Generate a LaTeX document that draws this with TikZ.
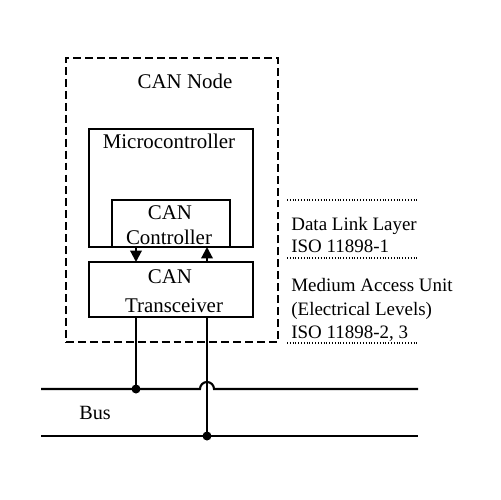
\documentclass[tikz,border=0pt]{standalone}
\usepackage{fontspec}
\setmainfont{Liberation Serif}
\usetikzlibrary{arrows.meta}
\begin{document}
\begin{tikzpicture}[x=0.02cm,y=-0.02cm,
  boxs/.style={draw, line width=1.2pt, inner sep=0pt, outer sep=0pt},
  nodebox/.style={draw, line width=1.1pt, dash pattern=on 4.5pt off 2.3pt, inner sep=0pt, outer sep=0pt},
  lbl/.style={inner sep=0pt, anchor=base, font=\fontsize{11.9}{14}\selectfont},
  rlbl/.style={inner sep=0pt, anchor=base west, font=\fontsize{10.8}{13}\selectfont},
  wire/.style={line width=1.2pt},
  dotl/.style={line width=0.8pt, dash pattern=on 0.5pt off 1.1pt},
  arr/.style={line width=1.2pt, -{Triangle[length=6.5pt,width=6.5pt]}},
  jdot/.style={circle, fill, inner sep=0pt, minimum size=0.18cm}]
\useasboundingbox (0,0) rectangle (500,500);
% boxes
\node[nodebox, minimum width=4.24cm, minimum height=5.68cm] (cann) at (172,200) {};
\node[boxs, minimum width=3.28cm, minimum height=2.36cm] (mc) at (171,188) {};
\node[boxs, minimum width=2.36cm, minimum height=0.94cm] (ctl) at (171,223.5) {};
\node[boxs, minimum width=3.28cm, minimum height=1.1cm] (trx) at (171,289.5) {};
% box texts
\node[lbl] (tnode) at (185,89) {CAN Node};
\node[lbl] (tmc) at (169,148) {Microcontroller};
\node[lbl] (tctl1) at (170,219.5) {CAN};
\node[lbl] (tctl2) at (169,244.5) {Controller};
\node[lbl] (ttrx1) at (170,283) {CAN};
\node[lbl] (ttrx2) at (174,312) {Transceiver};
% arrows between controller and transceiver
\coordinate (xa) at (136,0);
\coordinate (xb) at (207,0);
\draw[arr] (xa |- mc.south) -- (xa |- trx.north);
\draw[arr] (xb |- trx.north) -- (xb |- mc.south);
% bus
\coordinate (b1l) at (41,389);
\coordinate (b1r) at (418,389);
\coordinate (b2l) at (41,436);
\coordinate (b2r) at (418,436);
\node[jdot] (j1) at (xa |- b1l) {};
\node[jdot] (j2) at (xb |- b2l) {};
\draw[wire] (xa |- trx.south) -- (j1.center);
\draw[wire] (xb |- trx.south) -- (j2.center);
\draw[wire] (b1l) -- ([xshift=-0.14cm]xb |- b1l) arc[start angle=180, end angle=0, radius=0.14cm] -- (b1r);
\draw[wire] (b2l) -- (b2r);
\node[inner sep=0pt, anchor=base, font=\fontsize{11.5}{14}\selectfont] (tbus) at (95,419) {Bus};
% layer annotations
\coordinate (d1l) at (287,200);
\coordinate (d1r) at (417,200);
\coordinate (d2l) at (287,258);
\coordinate (d2r) at (417,258);
\coordinate (d3l) at (287,343);
\coordinate (d3r) at (417,343);
\draw[dotl] (d1l) -- (d1r);
\draw[dotl] (d2l) -- (d2r);
\draw[dotl] (d3l) -- (d3r);
\node[rlbl] (tdl1) at (291,230) {Data Link Layer};
\node[rlbl] (tdl2) at (291,252) {ISO 11898-1};
\node[rlbl] (tma1) at (291,291) {Medium Access Unit};
\node[rlbl] (tma2) at (291,315) {(Electrical Levels)};
\node[rlbl] (tma3) at (291,338) {ISO 11898-2, 3};
\end{tikzpicture}
\end{document}
